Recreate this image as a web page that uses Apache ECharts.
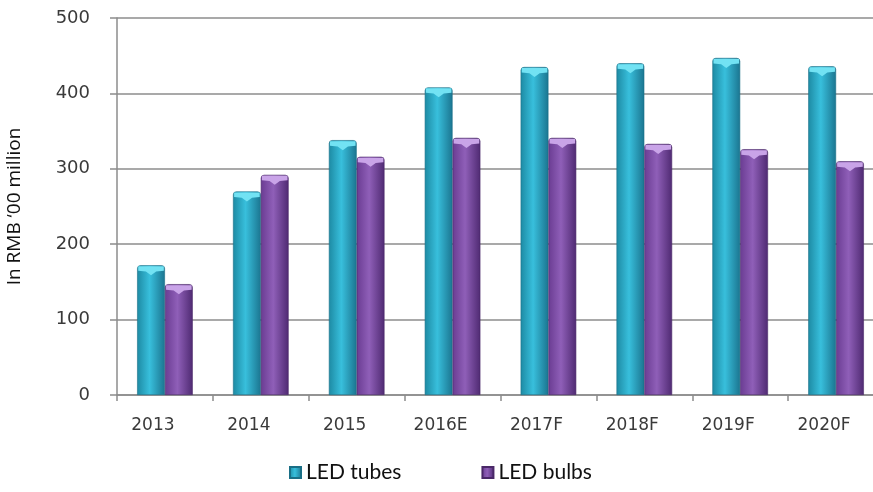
<!DOCTYPE html>
<html>
<head>
<meta charset="utf-8">
<script src="https://cdn.jsdelivr.net/npm/echarts@6/dist/echarts.min.js"></script>
<style>
  html, body { margin: 0; padding: 0; background: #fff; }
  #chart { width: 873px; height: 492px; }
</style>
</head>
<body>
<div id="chart"></div>
<script>
// Market size of LED tubes and LED bulbs, in RMB '00 million
const years = ['2013', '2014', '2015', '2016E', '2017F', '2018F', '2019F', '2020F'];
const ledTubes = [172, 270, 338, 408, 435, 440, 447, 436];
const ledBulbs = [147, 292, 316, 341, 341, 333, 326, 310];
const yTicks = { min: 0, max: 500, interval: 100 };

const labelFont = '"DejaVu Sans", Verdana, sans-serif';
const legendFont = 'Lato, "Open Sans", sans-serif';

// Horizontal gradients give the bars a rounded, cylinder-like shading
function cylinder(dark, light, darker) {
  return new echarts.graphic.LinearGradient(0, 0, 1, 0, [
    { offset: 0, color: dark },
    { offset: 0.45, color: light },
    { offset: 1, color: darker }
  ]);
}
const tubeFill = cylinder('#1d8aa3', '#38bfdc', '#1b7590');
const bulbFill = cylinder('#6a3c92', '#8f5fb8', '#4f2a72');

// Top face of each bar: a light band with a notch pointing down
const capPath = 'path://M0,0 L10,0 L10,3 L7,3.5 L5,6 L3,3.5 L0,3 Z';

const barW = '29%';

const chart = echarts.init(document.getElementById('chart'));
chart.setOption({
  backgroundColor: '#ffffff',
  animation: false,
  grid: { left: 117, top: 18, bottom: 97, width: 767, outerBoundsMode: 'none', containLabel: false },
  legend: {
    left: 284,
    top: 457,
    itemWidth: 11,
    itemHeight: 11,
    itemGap: 80,
    textStyle: { fontFamily: legendFont, fontSize: 21, color: '#111' },
    data: [
      { name: 'LED tubes', icon: 'rect', itemStyle: { color: tubeFill } },
      { name: 'LED bulbs', icon: 'rect', itemStyle: { color: bulbFill } }
    ]
  },
  xAxis: {
    type: 'category',
    data: years,
    axisLine: { lineStyle: { color: '#8c8c8c', width: 1.5 } },
    axisTick: { show: true, length: 6, lineStyle: { color: '#8c8c8c', width: 1.5 } },
    axisLabel: {
      color: '#3a3a3a', fontFamily: labelFont, fontSize: 17, margin: 22,
      padding: [0, 24, 0, 0]
    }
  },
  yAxis: {
    type: 'value',
    min: yTicks.min,
    max: yTicks.max,
    interval: yTicks.interval,
    name: 'In RMB \u201800 million',
    nameLocation: 'middle',
    nameGap: 93,
    nameTextStyle: { fontFamily: '"Open Sans", sans-serif', fontSize: 19, color: '#111' },
    axisLine: { show: true, lineStyle: { color: '#8c8c8c', width: 1.5 } },
    axisTick: { show: true, length: 7, lineStyle: { color: '#8c8c8c', width: 1.5 } },
    axisLabel: { color: '#3a3a3a', fontFamily: labelFont, fontSize: 18, margin: 27 },
    splitLine: { lineStyle: { color: '#8c8c8c', width: 1.5 } }
  },
  series: [
    {
      name: 'LED tubes', type: 'bar', data: ledTubes,
      barWidth: barW, barGap: '0%',
      itemStyle: { color: tubeFill, borderColor: '#1a6f86', borderWidth: 0.6, borderRadius: [3, 3, 0, 0] }
    },
    {
      name: 'LED bulbs', type: 'bar', data: ledBulbs,
      barWidth: barW, barGap: '0%',
      itemStyle: { color: bulbFill, borderColor: '#4a2868', borderWidth: 0.6, borderRadius: [3, 3, 0, 0] }
    },
    // Light top faces drawn just inside each bar's end
    {
      name: 'LED tubes', type: 'pictorialBar', data: ledTubes,
      barWidth: barW, barGap: '0%',
      symbol: capPath, symbolSize: ['92%', 9], symbolPosition: 'end',
      symbolOffset: [0, 1], z: 3,
      itemStyle: { color: '#72e2f3' }, tooltip: { show: false }
    },
    {
      name: 'LED bulbs', type: 'pictorialBar', data: ledBulbs,
      barWidth: barW, barGap: '0%',
      symbol: capPath, symbolSize: ['92%', 9], symbolPosition: 'end',
      symbolOffset: [0, 1], z: 3,
      itemStyle: { color: '#c9a4e8' }, tooltip: { show: false }
    }
  ]
});
</script>
</body>
</html>
